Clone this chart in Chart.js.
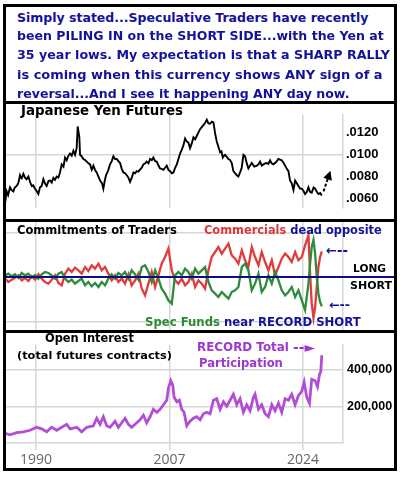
<!DOCTYPE html>
<html>
<head>
<meta charset="utf-8">
<script src="https://cdn.jsdelivr.net/npm/chart.js@4.4.1/dist/chart.umd.min.js"></script>
<style>
  body { margin: 0; width: 400px; height: 477px; background: #fff; overflow: hidden; position: relative; }
  canvas { position: absolute; left: 6px; }
  .bar { position: absolute; background: #000; }
  .lbl { position: absolute; white-space: nowrap; line-height: 1; font-family: 'DejaVu Sans', sans-serif; font-weight: bold; }
  .blue { color: #12129a; }
  .red { color: #e03838; }
  .green { color: #2b8a35; }
  .purple { color: #9c38d0; }
  .black { color: #000; }
</style>
</head>
<body>
<canvas id="yenChart" width="388" height="115" style="top:104px"></canvas>
<canvas id="cotChart" width="388" height="108" style="top:222px"></canvas>
<canvas id="oiChart" width="388" height="135" style="top:333px"></canvas>

<!-- frame -->
<div class="bar" style="left:3px;top:4px;width:394px;height:3px"></div>
<div class="bar" style="left:3px;top:468px;width:394px;height:3px"></div>
<div class="bar" style="left:3px;top:4px;width:3px;height:467px"></div>
<div class="bar" style="left:394px;top:4px;width:3px;height:467px"></div>
<div class="bar" style="left:3px;top:101px;width:394px;height:3px"></div>
<div class="bar" style="left:3px;top:219px;width:394px;height:3px"></div>
<div class="bar" style="left:3px;top:330px;width:394px;height:3px"></div>

<div class="lbl blue" data-x="17" data-cy="18" data-w="352">Simply stated...Speculative Traders have recently</div>
<div class="lbl blue" data-x="17" data-cy="36.3" data-w="367">been PILING IN on the SHORT SIDE...with the Yen at</div>
<div class="lbl blue" data-x="17" data-cy="55.3" data-w="373">35 year lows. My expectation is that a SHARP RALLY</div>
<div class="lbl blue" data-x="17" data-cy="75" data-w="366">is coming when this currency shows ANY sign of a</div>
<div class="lbl blue" data-x="17" data-cy="93.8" data-w="333">reversal...And I see it happening ANY day now.</div>

<div class="lbl black" data-x="21" data-cy="110.5" data-w="162">Japanese Yen Futures</div>

<div class="lbl black" data-x="17" data-cy="230.3" data-w="160">Commitments of Traders</div>
<div class="lbl" data-x="204" data-cy="230.3" data-w="178"><span class="red">Commercials</span> <span class="blue">dead opposite</span></div>
<div class="lbl blue" data-x="326" data-cy="250" data-w="22">&#8592;--</div>
<div class="lbl black" data-x="353" data-cy="269.7" data-w="33">LONG</div>
<div class="lbl black" data-x="350" data-cy="285.8" data-w="42">SHORT</div>
<div class="lbl blue" data-x="329" data-cy="305.5" data-w="21">&#8592;--</div>
<div class="lbl" data-x="145" data-cy="322.5" data-w="216"><span class="green">Spec Funds</span> <span class="blue">near RECORD SHORT</span></div>

<div class="lbl black" data-x="45" data-cy="338.3" data-w="89">Open Interest</div>
<div class="lbl black" data-x="17" data-cy="356" data-w="155">(total futures contracts)</div>
<div class="lbl purple" data-x="197" data-cy="347.5" data-w="92">RECORD Total</div>
<div class="lbl purple" data-x="293" data-cy="347.5" data-w="22">--&#9658;</div>
<div class="lbl purple" data-x="199" data-cy="363.5" data-w="84">Participation</div>

<script>
// shared time axis
const yearTicks = [1990, 2007, 2024];
const yearMin = 1986.18;
const yearMax = 2029.1;

// Japanese Yen futures (USD per yen)
const yenYears = [
  1986.05, 1986.27, 1986.45, 1986.69, 1986.9, 1987.11, 1987.3, 1987.54, 1987.75, 1987.96,
  1988.08, 1988.18, 1988.39, 1988.6, 1988.81, 1989.03, 1989.25, 1989.45, 1989.65, 1989.87,
  1990.1, 1990.3, 1990.5, 1990.72, 1990.94, 1991.15, 1991.36, 1991.6, 1991.79, 1992.0,
  1992.21, 1992.42, 1992.63, 1992.85, 1993.06, 1993.27, 1993.5, 1993.7, 1993.91, 1994.1,
  1994.33, 1994.55, 1994.76, 1994.97, 1995.18, 1995.31, 1995.52, 1995.61, 1995.8, 1996.04,
  1996.25, 1996.46, 1996.68, 1996.88, 1997.1, 1997.31, 1997.52, 1997.73, 1997.95, 1998.16,
  1998.4, 1998.58, 1998.75, 1998.92, 1999.1, 1999.22, 1999.43, 1999.65, 1999.86, 2000.07,
  2000.28, 2000.5, 2000.71, 2000.92, 2001.13, 2001.35, 2001.56, 2001.77, 2001.98, 2002.2,
  2002.41, 2002.62, 2002.83, 2003.04, 2003.25, 2003.47, 2003.68, 2003.9, 2004.1, 2004.32,
  2004.53, 2004.75, 2004.95, 2005.17, 2005.38, 2005.6, 2005.8, 2006.0, 2006.23, 2006.44,
  2006.65, 2006.86, 2007.08, 2007.3, 2007.5, 2007.72, 2007.93, 2008.14, 2008.35, 2008.55,
  2008.77, 2008.99, 2009.2, 2009.41, 2009.62, 2009.83, 2010.05, 2010.26, 2010.47, 2010.68,
  2010.9, 2011.11, 2011.32, 2011.55, 2011.75, 2011.96, 2012.17, 2012.4, 2012.6, 2012.81,
  2013.02, 2013.23, 2013.45, 2013.62, 2013.79, 2013.95, 2014.08, 2014.3, 2014.51, 2014.72,
  2014.93, 2015.14, 2015.35, 2015.57, 2015.78, 2015.99, 2016.2, 2016.42, 2016.63, 2016.84,
  2017.05, 2017.27, 2017.48, 2017.8, 2018.12, 2018.33, 2018.54, 2018.75, 2018.97, 2019.18,
  2019.39, 2019.6, 2019.81, 2020.02, 2020.24, 2020.56, 2020.88, 2021.09, 2021.3, 2021.52,
  2021.73, 2021.94, 2022.15, 2022.36, 2022.57, 2022.79, 2023.0, 2023.2, 2023.42, 2023.63,
  2023.85, 2024.06, 2024.27, 2024.5, 2024.7, 2024.9, 2025.12, 2025.35, 2025.55, 2025.76,
  2025.97, 2026.2, 2026.4
];
const yenValues = [
  .00553, .00664, .00630, .00701, .00675, .00664, .00700, .00714, .00740, .00812,
  .00790, .00783, .00825, .00790, .00775, .00800, .00750, .00713, .00720, .00689,
  .00665, .00640, .00700, .00714, .00775, .00735, .00714, .00760, .00763, .00745,
  .00788, .00770, .00800, .00790, .00837, .00911, .00890, .00973, .00948, .00985,
  .01010, .00990, .01035, .00998, .01059, .01257, .01158, .00998, .00985, .00960,
  .00950, .00936, .00920, .00911, .00862, .00899, .00860, .00837, .00800, .00763,
  .00740, .00689, .00760, .00812, .00840, .00862, .00911, .00940, .00985, .00960,
  .00960, .00940, .00923, .00870, .00837, .00830, .00812, .00790, .00751, .00790,
  .00837, .00830, .00849, .00845, .00862, .00880, .00911, .00920, .00936, .00920,
  .00960, .00950, .00973, .00940, .00936, .00900, .00874, .00870, .00862, .00880,
  .00899, .00860, .00849, .00830, .00837, .00880, .00911, .00960, .01010, .01040,
  .01084, .01146, .01120, .01109, .01059, .01100, .01158, .01140, .01170, .01200,
  .01232, .01250, .01269, .01290, .01319, .01285, .01281, .01300, .01294, .01195,
  .01120, .01072, .01022, .01030, .00973, .00990, .00998, .00980, .00960, .00950,
  .00923, .00849, .00830, .00812, .00800, .00837, .00880, .00998, .00985, .00920,
  .00874, .00900, .00923, .00890, .00899, .00910, .00936, .00900, .00911, .00920,
  .00923, .00915, .00948, .00920, .00911, .00930, .00960, .00955, .00948, .00925,
  .00899, .00870, .00849, .00763, .00738, .00677, .00763, .00740, .00714, .00690,
  .00689, .00670, .00640, .00660, .00701, .00660, .00652, .00700, .00689, .00660,
  .00640, .00650, .00627
];
const yenTicks = [0.006, 0.008, 0.010, 0.012];
// hand-drawn dashed arrow (start, tip)
const arrowYears = [2026.62, 2027.3];
const arrowValues = [0.00665, 0.0081];

// Commitments of Traders, net positions (thousand contracts)
const cotYears = [
  1986.06, 1986.48, 1986.91, 1987.33, 1987.76, 1988.18, 1988.60, 1989.03, 1989.45, 1989.88,
  1990.30, 1990.73, 1991.15, 1991.58, 1992.00, 1992.43, 1992.85, 1993.28, 1993.70, 1994.12,
  1994.55, 1994.97, 1995.40, 1995.82, 1996.25, 1996.67, 1997.10, 1997.52, 1997.95, 1998.37,
  1998.80, 1999.22, 1999.64, 2000.07, 2000.49, 2000.92, 2001.34, 2001.77, 2002.19, 2002.62,
  2003.04, 2003.47, 2003.89, 2004.32, 2004.74, 2005.17, 2005.59, 2006.01, 2006.44, 2006.86,
  2007.29, 2007.71, 2008.14, 2008.56, 2008.99, 2009.41, 2009.84, 2010.26, 2010.68, 2011.11,
  2011.53, 2011.96, 2012.38, 2012.81, 2013.23, 2013.66, 2014.08, 2014.51, 2014.93, 2015.36,
  2015.78, 2016.21, 2016.63, 2017.05, 2017.48, 2017.90, 2018.33, 2018.75, 2019.18, 2019.60,
  2020.03, 2020.45, 2020.88, 2021.30, 2021.73, 2022.15, 2022.57, 2023.00, 2023.42, 2023.85,
  2024.27, 2024.70, 2024.91, 2025.12, 2025.34, 2025.55, 2025.76, 2025.97, 2026.18, 2026.40
];
const commercials = [
  -5, -15, -8, -2, 5, -10, -3, -12, 3, -8,
  8, -5, -15, -20, -8, 5, -18, -25, 10, 25,
  15, 28, 20, 10, 30, 18, 35, 25, 40, 20,
  30, 10, -10, 5, -15, -5, -20, 8, -25, -10,
  10, -35, -55, -20, 15, -30, 5, 40, 60, 85,
  20, -10, -20, -5, -25, -15, 10, -30, -10, -20,
  -35, 20, 60, 75, 90, 70, 85, 100, 65, 55,
  40, 80, 50, 30, 90, 60, 35, 75, 45, 20,
  50, 5, 30, 55, 70, 60, 45, 75, 50, 60,
  95, 125, 10, -80, -123, -90, -30, 30, 60, 77
];
const specFunds = [
  5, 10, 2, 8, -3, 12, 5, 10, -2, 6,
  -5, 8, 15, 12, 5, -5, 10, 15, -5, -15,
  -8, -20, -12, -5, -25, -15, -28, -18, -30, -15,
  -25, -5, 8, -5, 12, 5, 15, -5, 20, 8,
  -8, 30, 35, 15, -15, 20, -5, -35, -50, -70,
  -80, 5, 15, 5, 25, 15, -5, 25, 10, 20,
  30, -15, -40, -50, -60, -45, -55, -65, -45, -40,
  -30, 30, 40, 20, -40, -20, 10, -45, -30, 5,
  -20, 15, -10, -40, -55, -45, -30, -60, -40, -70,
  -99, -20, 40, 90, 111, 70, 0, -50, -75, -88
];

// Open interest (total futures contracts)
const oiYears = [
  1986.06, 1986.69, 1987.54, 1988.39, 1989.24, 1990.09, 1990.73, 1991.36, 1992.00, 1992.64,
  1993.28, 1993.91, 1994.34, 1995.19, 1995.82, 1996.46, 1997.31, 1997.73, 1998.16, 1998.58,
  1999.01, 1999.43, 2000.07, 2000.49, 2000.92, 2001.34, 2001.77, 2002.19, 2002.83, 2003.25,
  2003.68, 2004.10, 2004.53, 2004.95, 2005.38, 2005.80, 2006.23, 2006.65, 2006.86, 2007.16,
  2007.42, 2007.59, 2007.93, 2008.26, 2008.56, 2008.86, 2009.20, 2009.62, 2010.05, 2010.47,
  2010.90, 2011.32, 2011.75, 2012.17, 2012.60, 2013.02, 2013.45, 2013.87, 2014.29, 2014.72,
  2015.14, 2015.57, 2015.99, 2016.42, 2016.84, 2017.27, 2017.69, 2017.90, 2018.33, 2018.75,
  2019.18, 2019.60, 2020.03, 2020.45, 2020.88, 2021.30, 2021.73, 2022.15, 2022.57, 2023.00,
  2023.42, 2023.85, 2024.15, 2024.49, 2024.83, 2025.12, 2025.55, 2025.85, 2026.10, 2026.27,
  2026.40
];
const openInterest = [
  52500, 44400, 56200, 61100, 69300, 85500, 77300, 61100, 85500, 69300,
  85500, 101900, 77300, 85500, 61100, 85500, 93700, 134700, 101900, 142900,
  93700, 85500, 118400, 85500, 110200, 134700, 101900, 85500, 110200, 126500,
  151100, 110200, 142900, 183800, 167500, 183800, 208300, 232900, 298400, 339400,
  314800, 249300, 224700, 232900, 183800, 167500, 93700, 118400, 134700, 142900,
  126500, 159300, 167500, 159300, 232900, 241100, 183800, 224700, 200200, 232900,
  265600, 208300, 241100, 167500, 208300, 175600, 249300, 265600, 183800, 208300,
  159300, 142900, 208300, 175600, 216500, 167500, 241100, 232900, 265600, 208300,
  257400, 282000, 331200, 249300, 216500, 347500, 339400, 306600, 372100, 388500,
  478600
];
const oiTicks = [200000, 400000];

const grey = '#d6d6d6';
const pts = (xs, ys) => xs.map((x, i) => ({ x: x, y: ys[i] }));

function timeAxis(showLabels) {
  return {
    type: 'linear',
    min: yearMin,
    max: yearMax,
    afterBuildTicks: s => { s.ticks = yearTicks.map(v => ({ value: v })); },
    afterFit: s => { s.height = showLabels ? 25 : 0; },
    grid: { color: grey, lineWidth: 1.5, drawTicks: showLabels, tickLength: 7, tickColor: grey },
    border: { display: showLabels, color: grey, width: 1.5 },
    ticks: {
      display: showLabels, padding: 2, maxRotation: 0, color: '#666',
      font: { family: 'Open Sans', size: 14 },
      callback: v => String(v)
    }
  };
}

function rightAxis(min, max, ticks, gridFor, fmt, size, pad) {
  return {
    position: 'right',
    min: min,
    max: max,
    afterBuildTicks: s => { s.ticks = ticks.map(v => ({ value: v })); },
    afterFit: s => { s.width = 51; },
    grid: { color: c => gridFor.includes(c.tick && c.tick.value) ? grey : 'rgba(0,0,0,0)', lineWidth: 1.5, drawTicks: false },
    border: { display: true, color: grey, width: 1.5 },
    ticks: {
      display: !!fmt, padding: pad, color: '#000',
      font: { family: 'Liberation Sans', weight: 'bold', size: size },
      callback: fmt || (() => '')
    }
  };
}

const baseOpts = {
  responsive: false,
  animation: false,
  events: [],
  layout: { padding: 0 },
  plugins: { legend: { display: false }, tooltip: { enabled: false } },
  elements: { point: { radius: 0 }, line: { tension: 0 } }
};

// arrowhead at the end of the dashed arrow
const arrowHead = {
  id: 'arrowHead',
  afterDatasetsDraw(chart) {
    const d = chart.getDatasetMeta(1).data;
    const a = d[0], b = d[1];
    const ang = Math.atan2(b.y - a.y, b.x - a.x);
    const ctx = chart.ctx;
    ctx.save();
    ctx.fillStyle = '#000';
    ctx.translate(b.x, b.y);
    ctx.rotate(ang);
    ctx.beginPath();
    ctx.moveTo(5, 0);
    ctx.lineTo(-4, -4.5);
    ctx.lineTo(-4, 4.5);
    ctx.closePath();
    ctx.fill();
    ctx.restore();
  }
};

// long / short divider across the full panel
const zeroLine = {
  id: 'zeroLine',
  afterDatasetsDraw(chart) {
    const y = chart.scales.y.getPixelForValue(0);
    const ctx = chart.ctx;
    ctx.save();
    ctx.strokeStyle = '#0c0c86';
    ctx.lineWidth = 2;
    ctx.beginPath();
    ctx.moveTo(0, y);
    ctx.lineTo(chart.width, y);
    ctx.stroke();
    ctx.restore();
  }
};

new Chart(document.getElementById('yenChart'), {
  type: 'line',
  data: {
    datasets: [
      { data: pts(yenYears, yenValues), borderColor: '#000', borderWidth: 1.9 },
      { data: pts(arrowYears, arrowValues), borderColor: '#000', borderWidth: 2, borderDash: [3, 2] }
    ]
  },
  options: Object.assign({}, baseOpts, {
    scales: {
      x: timeAxis(false),
      y: rightAxis(0.00511, 0.01363, yenTicks, [0.010], v => v.toFixed(4).slice(1), 13, 3)
    }
  }),
  plugins: [arrowHead]
});

new Chart(document.getElementById('cotChart'), {
  type: 'line',
  data: {
    datasets: [
      { data: pts(cotYears, specFunds), borderColor: '#2e8b3c', borderWidth: 2.3 },
      { data: pts(cotYears, commercials), borderColor: '#e23b3b', borderWidth: 2.3 }
    ]
  },
  options: Object.assign({}, baseOpts, {
    scales: {
      x: timeAxis(false),
      y: rightAxis(-159, 165, [-135, 132], [-135, 132], null, 12, 3)
    }
  }),
  plugins: [zeroLine]
});

new Chart(document.getElementById('oiChart'), {
  type: 'line',
  data: {
    datasets: [
      { data: pts(oiYears, openInterest), borderColor: '#b24ed6', borderWidth: 2.8 }
    ]
  },
  options: Object.assign({}, baseOpts, {
    scales: {
      x: timeAxis(true),
      y: rightAxis(0, 536600, oiTicks, oiTicks, v => v.toLocaleString('en-US'), 12.5, 4)
    }
  })
});

// size each annotation to its measured width in the original
document.querySelectorAll('.lbl').forEach(el => {
  el.style.fontSize = '20px';
  const w = el.getBoundingClientRect().width;
  const size = 20 * (+el.dataset.w) / w;
  el.style.fontSize = size + 'px';
  el.style.left = el.dataset.x + 'px';
  el.style.top = (+el.dataset.cy - 0.49 * size) + 'px';
});
</script>
</body>
</html>
